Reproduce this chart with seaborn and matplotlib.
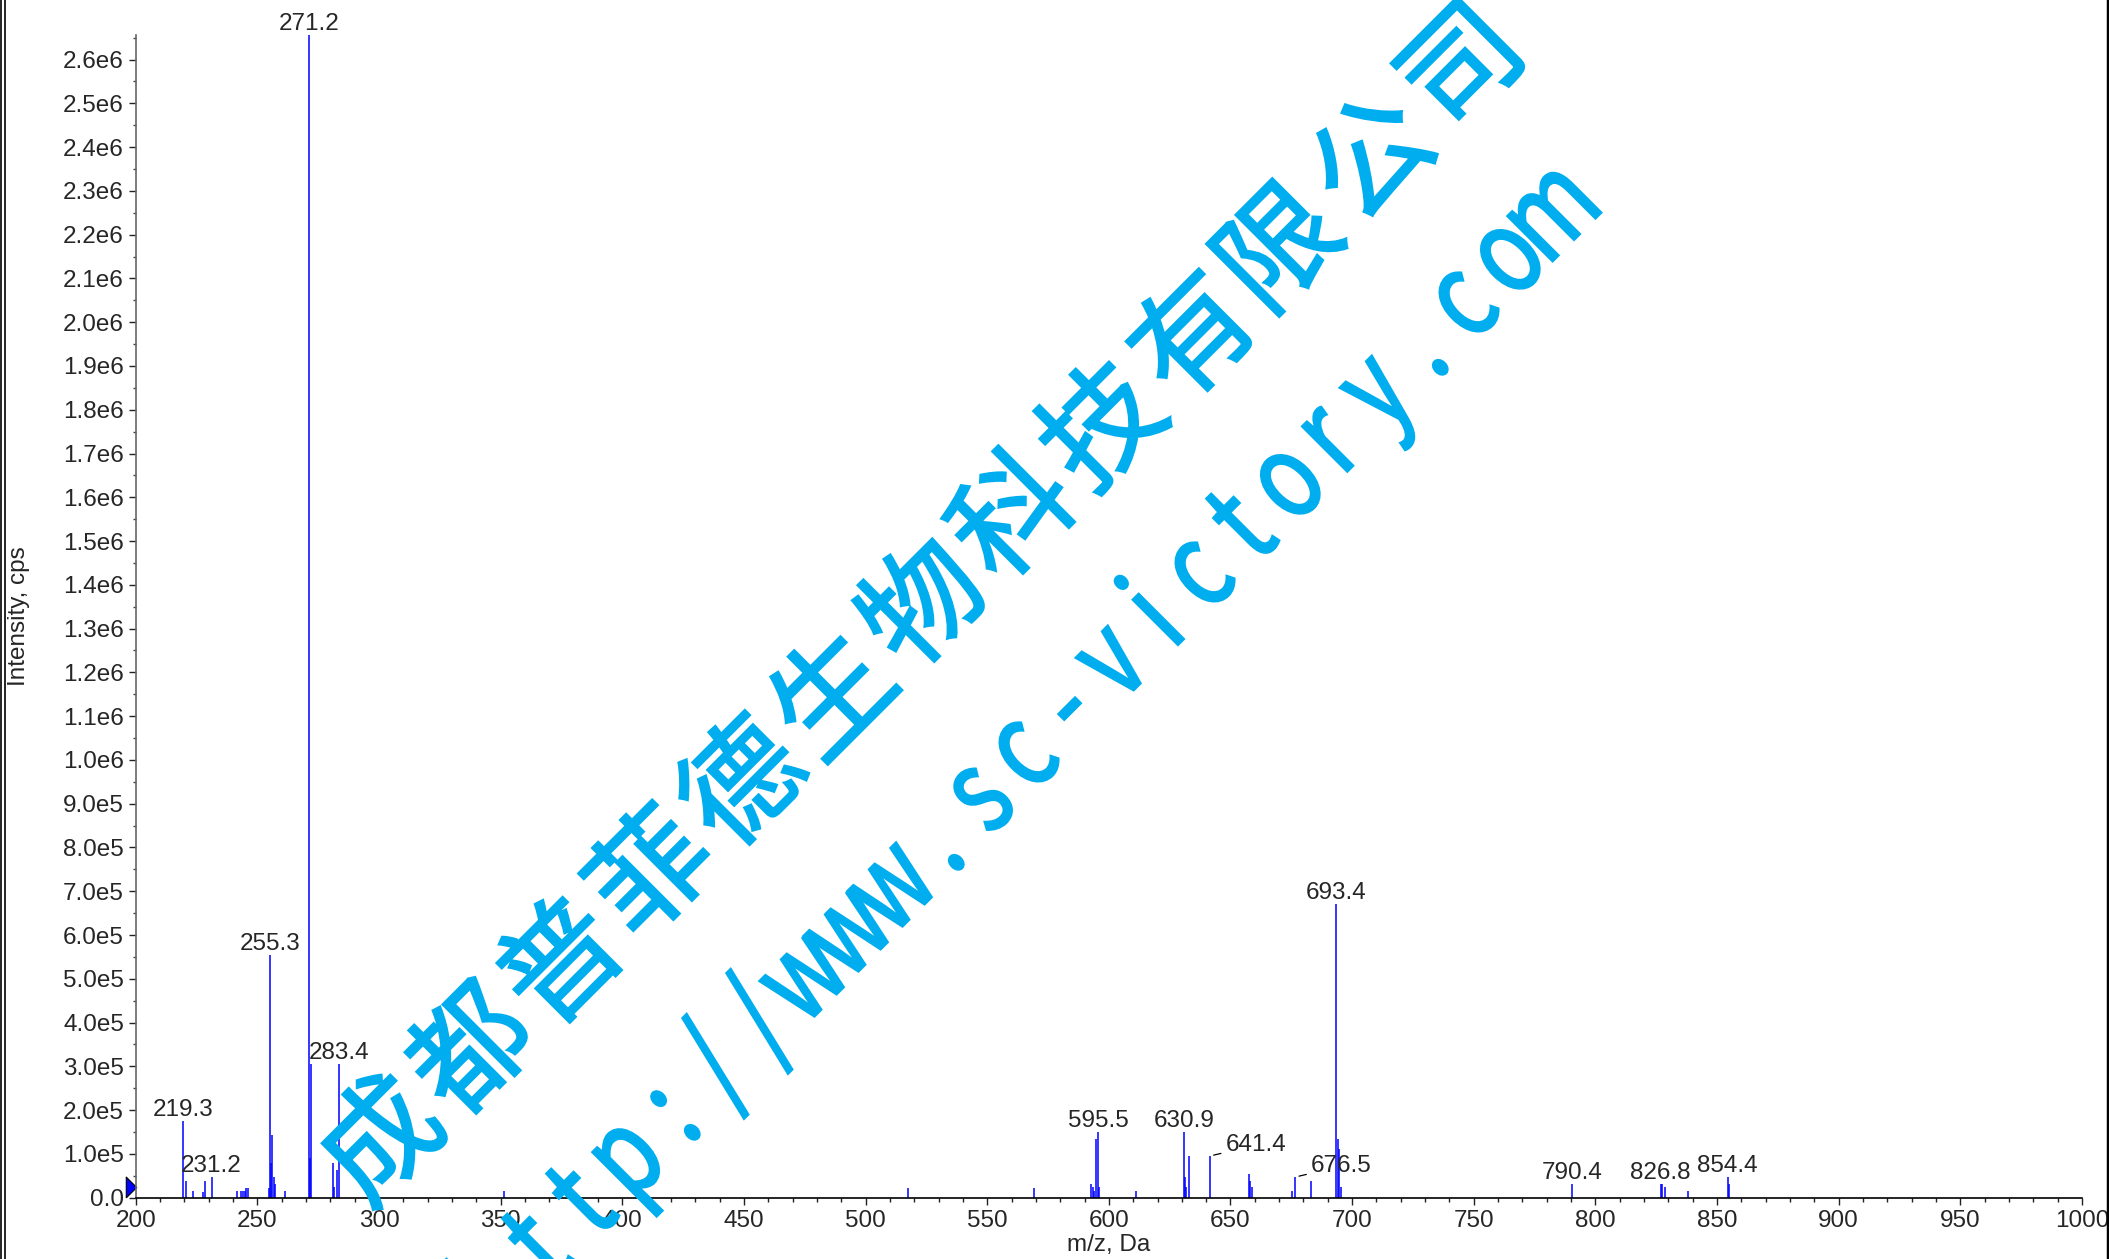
import matplotlib
matplotlib.use("Agg")
import matplotlib.pyplot as plt
import matplotlib.transforms as mtransforms
import seaborn as sns
from matplotlib.font_manager import FontProperties
from matplotlib.lines import Line2D
from matplotlib.patches import PathPatch
from matplotlib.textpath import TextPath
from matplotlib.ticker import MultipleLocator

# peak list (m/z, intensity in cps)
mz = [219.3, 220.5, 223.6, 227.8, 228.4, 231.2, 241.6, 243.4, 243.9, 244.9,
      245.5, 246.0, 254.9, 255.3, 255.7, 256.2, 256.7, 257.2, 261.3, 271.2,
      271.6, 272.2, 281.1, 281.7, 282.9, 283.4, 351.2, 517.6, 569.2, 592.6,
      593.3, 594.1, 594.9, 595.5, 596.0, 611.3, 630.9, 631.3, 631.8, 633.1,
      641.4, 657.7, 658.2, 659.0, 675.4, 676.5, 682.9, 693.4, 694.0, 694.4,
      695.6, 790.4, 826.8, 827.3, 828.8, 838.2, 854.4, 855.0]
intensity = [1.76e5, 0.38e5, 0.15e5, 0.12e5, 0.38e5, 0.48e5, 0.15e5, 0.15e5, 0.15e5, 0.15e5,
             0.23e5, 0.23e5, 0.23e5, 5.54e5, 0.79e5, 1.44e5, 0.48e5, 0.31e5, 0.15e5, 2.656e6,
             0.90e5, 3.05e5, 0.79e5, 0.25e5, 0.64e5, 3.05e5, 0.15e5, 0.22e5, 0.22e5, 0.31e5,
             0.24e5, 0.15e5, 1.35e5, 1.50e5, 0.24e5, 0.15e5, 1.50e5, 0.47e5, 0.24e5, 0.95e5,
             0.95e5, 0.55e5, 0.39e5, 0.24e5, 0.15e5, 0.47e5, 0.39e5, 6.70e5, 1.35e5, 1.12e5,
             0.24e5, 0.31e5, 0.31e5, 0.31e5, 0.24e5, 0.15e5, 0.47e5, 0.31e5]

label_mz = [219.3, 231.2, 255.3, 271.2, 283.4, 595.5, 630.9, 641.4, 676.5,
            693.4, 790.4, 826.8, 854.4]
leader_mz = [641.4, 676.5]

x_ticks = list(range(200, 1001, 50))
y_ticks = [i * 1e5 for i in range(27)]
y_tick_labels = ["0.0", "1.0e5", "2.0e5", "3.0e5", "4.0e5", "5.0e5", "6.0e5",
                 "7.0e5", "8.0e5", "9.0e5", "1.0e6", "1.1e6", "1.2e6", "1.3e6",
                 "1.4e6", "1.5e6", "1.6e6", "1.7e6", "1.8e6", "1.9e6", "2.0e6",
                 "2.1e6", "2.2e6", "2.3e6", "2.4e6", "2.5e6", "2.6e6"]
threshold = 0.245e5

wm_cn = "成都普菲德生物科技有限公司"
wm_url = "http://www.sc-victory.com"

sns.set_style("ticks")
plt.rcParams["font.family"] = ["Liberation Sans", "DejaVu Sans"]

W, H = 2109, 1259
fig = plt.figure(figsize=(W / 100, H / 100), dpi=100)
ax = fig.add_axes([135.7 / W, 61.3 / H, (2082 - 135.7) / W, (1224 - 61.3) / H])

ax.vlines(mz, 0, intensity, color="#0000ff", lw=1.1)
ax.set_xlim(200, 1000)
ax.set_ylim(0, 2.656e6)

sns.despine(ax=ax)
ax.spines["left"].set_color("#666666")
ax.spines["bottom"].set_color("black")
for s in ("left", "bottom"):
    ax.spines[s].set_linewidth(1.2)

ax.set_xticks(x_ticks)
ax.set_xticklabels([str(v) for v in x_ticks])
ax.set_yticks(y_ticks)
ax.set_yticklabels(y_tick_labels)
ax.xaxis.set_minor_locator(MultipleLocator(10))
ax.yaxis.set_minor_locator(MultipleLocator(5e4))
ax.tick_params(which="major", length=5, width=1, labelsize=17.5, color="#222222", pad=3.5)
ax.tick_params(axis="x", which="minor", length=3, width=1, color="#222222")
ax.tick_params(axis="y", which="minor", length=2.3, width=1, color="#444444")

ax.set_xlabel("m/z, Da", fontsize=17.5, va="center")
ax.xaxis.set_label_coords(0.5, -(1245.5 - 1197.7) / (1197.7 - 35))
ax.set_ylabel("Intensity, cps", fontsize=17.5, va="center")
ax.yaxis.set_label_coords(-(135.7 - 19) / (2082 - 135.7), 0.5)

# peak labels
for m in label_mz:
    h = intensity[mz.index(m)]
    if m in leader_mz:
        ax.annotate(f"{m:.1f}", xy=(m, h), xytext=(16, 11), textcoords="offset pixels",
                    ha="left", va="center", fontsize=17.5, annotation_clip=False,
                    arrowprops=dict(arrowstyle="-", lw=0.9, color="black",
                                    shrinkA=1, shrinkB=3))
    else:
        ax.annotate(f"{m:.1f}", xy=(m, h), xytext=(0, 11), textcoords="offset pixels",
                    ha="center", va="center", fontsize=17.5, annotation_clip=False)

# threshold marker on the y axis
tri = [(-0.5, -1), (0.5, 0), (-0.5, 1), (-0.5, -1)]
ax.plot([200], [threshold], marker=tri, ms=15, color="#0000ff", mec="black", mew=0.8,
        clip_on=False, transform=mtransforms.offset_copy(ax.transData, fig=fig, x=-4.7, y=0, units="dots"))

# watermark
fp = FontProperties(family="Noto Sans CJK SC")
ident = mtransforms.IdentityTransform()
wm_color = "#00AEEF"


def stamp(ch, x_img, y_img, size, sx, angle, center_v):
    tp = TextPath((0, 0), ch, size=size, prop=fp)
    bb = tp.get_extents()
    dy = -(bb.y0 + bb.y1) / 2 if center_v else 0
    tr = (mtransforms.Affine2D().translate(-(bb.x0 + bb.x1) / 2, dy)
          .scale(sx, 1).rotate_deg(angle).translate(x_img, H - y_img))
    fig.add_artist(PathPatch(tr.transform_path(tp), transform=ident,
                             facecolor=wm_color, edgecolor=wm_color, lw=1.6, zorder=10))


for i, ch in enumerate(wm_cn):
    stamp(ch, 377 + i * 90.2, 1137 - i * 89.3, 118, 1.0, 45, True)

for i, ch in enumerate(wm_url):
    stamp(ch, 1533 + (i - 23) * 44, 282 - (i - 23) * 45, 118, 0.78, 45, False)

# outer frame
for xf, lw in ((1 / W, 1.2), (5 / W, 1.2), (2107.5 / W, 2.5)):
    fig.add_artist(Line2D([xf, xf], [0, 1], transform=fig.transFigure, color="black", lw=lw))

fig.savefig("out.png", dpi=100)
